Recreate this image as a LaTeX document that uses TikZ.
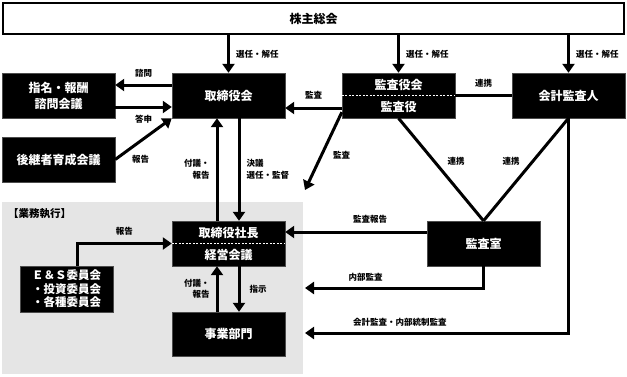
\documentclass[tikz,border=0pt]{standalone}
\usepackage{fontspec}
\setmainfont{Noto Sans CJK JP}
\usepackage{tikz}
\usetikzlibrary{arrows.meta, positioning}
\definecolor{execgray}{gray}{0.9}
\tikzstyle{org} = [draw=black!70, fill=black, text=white, minimum width=113pt, minimum height=45pt, inner sep=2pt, align=center, font=\bfseries\fontsize{12}{22}\selectfont]
\tikzstyle{lbl} = [inner sep=1pt, font=\bfseries\fontsize{8.5}{11.5}\selectfont]
\tikzstyle{arrow} = [line width=3pt, -{Triangle[length=9pt,width=12pt]}]
\tikzstyle{link} = [line width=3pt]
\tikzstyle{dots} = [white, line width=1.2pt, dash pattern=on 2pt off 1.5pt]

\begin{document}
\begin{tikzpicture}[x=1pt,y=-1pt]
\useasboundingbox (0,0) rectangle (627,376);
\fill[execgray] (2,202) rectangle (303,374);
\node[anchor=west, inner sep=0pt, font=\bfseries\fontsize{10.5}{12}\selectfont] (exectitle) at (8,214) {【業務執行】};

\node[
draw=black,
fill=white,
line width=2.5pt,
minimum width=621pt,
minimum height=31pt,
font=\bfseries\fontsize{12}{14}\selectfont
] (shareholders) at (313.5,18.5) {株主総会};

\node[org] (board) at (228.5,95.5) {取締役会};
\node[org] (nomination) at (58.5,95.5) {指名・報酬\\[-6pt]諮問会議};
\node[org] (succession) at (58.5,159.5) {後継者育成会議};
\node[org] (auditors) at (398.5,95.5) {監査役会\\監査役};
\node[org] (accountant) at (568.5,95.5) {会計監査人};
\node[org] (president) at (228.5,243.5) {取締役社長\\経営会議};
\node[org, minimum width=93pt, minimum height=46pt, font=\bfseries\fontsize{11.5}{13.5}\selectfont] (committees) at (66.5,289) {Ｅ＆Ｓ委員会\\・投資委員会\\・各種委員会};
\node[org, minimum height=44pt] (business) at (228.5,334) {事業部門};
\node[org] (auditoffice) at (483.5,243.5) {監査室};

\draw[dots] (auditors.west) -- (auditors.east);
\draw[dots] (president.west) -- (president.east);

\coordinate (audittip) at (305,190);
\coordinate (internalend) at (305,288);
\coordinate (accountend) at (305,333);

\draw[arrow] (shareholders.south -| board) -- (board.north) node[midway, right=5pt, lbl] {選任・解任};
\draw[arrow] (shareholders.south -| auditors) -- (auditors.north) node[midway, right=5pt, lbl] {選任・解任};
\draw[arrow] (shareholders.south -| accountant) -- (accountant.north) node[midway, right=5pt, lbl] {選任・解任};

\draw[arrow] (board.west |- 0,85) -- (nomination.east |- 0,85) node[midway, above=5pt, lbl] {諮問};
\draw[arrow] (nomination.east |- 0,107) -- (board.west |- 0,107) node[midway, below=6pt, lbl] {答申};
\draw[arrow] (succession.east) -- (board.south west) node[pos=0.45, below=12pt, lbl] {報告};

\draw[arrow] (auditors.west |- 0,108) -- (board.east |- 0,108) node[midway, above=6pt, lbl] {監査};
\draw[arrow] ([yshift=6pt]auditors.south west) -- (audittip) node[pos=0.55, right=9pt, lbl] {監査};
\draw[link] (auditors.east) -- (accountant.west) node[midway, above=6pt, lbl] {連携};
\draw[link] (auditors.south) -- (auditoffice.north) node[midway, above right=2pt and 4pt, lbl] {連携};
\draw[link] (accountant.south) -- (auditoffice.north) node[midway, above left=2pt and 4pt, lbl] {連携};
\draw[arrow] (accountant.south) |- (accountend) node[pos=0.82, above=4pt, lbl] {会計監査・内部統制監査};

\draw[arrow] (auditoffice.west |- 0,232) -- (president.east |- 0,232) node[pos=0.4, above=6pt, lbl] {監査報告};
\draw[arrow] (auditoffice.south) |- (internalend) node[pos=0.83, above=4pt, lbl] {内部監査};

\draw[arrow] (president.north -| 217,0) -- (board.south -| 217,0) node[midway, left=5pt, align=right, lbl] {付議・\\報告};
\draw[arrow] (board.south -| 239,0) -- (president.north -| 239,0) node[midway, right=5pt, align=left, lbl] {決議\\選任・監督};
\draw[arrow] (business.north -| 217,0) -- (president.south -| 217,0) node[midway, left=5pt, align=right, lbl] {付議・\\報告};
\draw[arrow] (president.south -| 239,0) -- (business.north -| 239,0) node[midway, right=8pt, lbl] {指示};

\draw[arrow] (committees.north -| 77,0) |- (president.west) node[pos=0.75, above=6pt, lbl] {報告};
\end{tikzpicture}
\end{document}
